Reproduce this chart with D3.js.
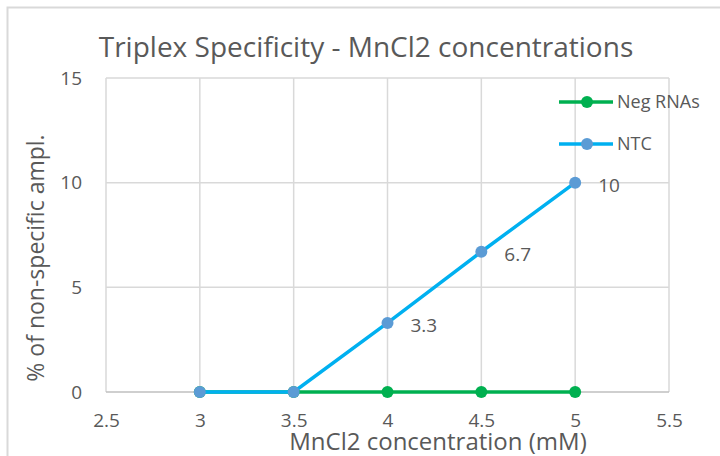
<!DOCTYPE html>
<html>
<head>
<meta charset="utf-8">
<script src="https://cdn.jsdelivr.net/npm/d3@7"></script>
<style>
  body { margin: 0; background: #fff; }
  svg text { font-family: "Open Sans", Lato, sans-serif; fill: #595959; }
</style>
</head>
<body>
<div id="chart"></div>
<script>
// chart values
const concentrations = [3, 3.5, 4, 4.5, 5];
const negRnas = [0, 0, 0, 0, 0];
const ntc = [0, 0, 3.3, 6.7, 10];
const ntcLabels = [null, null, "3.3", "6.7", "10"];
const xTicks = [2.5, 3, 3.5, 4, 4.5, 5, 5.5];
const yTicks = [0, 5, 10, 15];

const width = 720, height = 456;
const margin = { top: 78, right: 51, bottom: 64, left: 106 };
const innerW = width - margin.left - margin.right;
const innerH = height - margin.top - margin.bottom;

const svg = d3.select("#chart")
  .append("svg")
  .attr("width", width)
  .attr("height", height);

// outer frame (runs off right and bottom edges)
svg.append("rect")
  .attr("x", 7.5).attr("y", 7.5)
  .attr("width", 760).attr("height", 500)
  .attr("fill", "none")
  .attr("stroke", "#d9d9d9")
  .attr("stroke-width", 2);

const g = svg.append("g")
  .attr("transform", "translate(" + margin.left + "," + margin.top + ")");

const x = d3.scaleLinear().domain([2.5, 5.5]).range([0, innerW]);
const y = d3.scaleLinear().domain([0, 15]).range([innerH, 0]);

// gridlines
g.append("g")
  .selectAll("line")
  .data(xTicks)
  .enter()
  .append("line")
  .attr("x1", d => x(d)).attr("x2", d => x(d))
  .attr("y1", 0).attr("y2", innerH)
  .attr("stroke", "#d9d9d9")
  .attr("stroke-width", 1.5);

g.append("g")
  .selectAll("line")
  .data(yTicks)
  .enter()
  .append("line")
  .attr("x1", 0).attr("x2", innerW)
  .attr("y1", d => y(d)).attr("y2", d => y(d))
  .attr("stroke", d => d === 0 ? "#bfbfbf" : "#d9d9d9")
  .attr("stroke-width", 1.5);

// axes (labels only)
const xAxis = g.append("g")
  .attr("transform", "translate(0," + innerH + ")")
  .call(d3.axisBottom(x).tickValues(xTicks).tickSize(0).tickPadding(22).tickFormat(d3.format("")));
xAxis.select(".domain").remove();
xAxis.selectAll("text").style("font-size", "19px").attr("fill", "#595959");

const yAxis = g.append("g")
  .call(d3.axisLeft(y).tickValues(yTicks).tickSize(0).tickPadding(24));
yAxis.select(".domain").remove();
yAxis.selectAll("text").style("font-size", "19px").attr("fill", "#595959");

// series lines
const line = d3.line()
  .x(d => x(d[0]))
  .y(d => y(d[1]));

const series = [
  { name: "Neg RNAs", values: negRnas, line: "#00b050", marker: "#00b050" },
  { name: "NTC", values: ntc, line: "#00b0f0", marker: "#5b9bd5" }
];

series.forEach(s => {
  const pts = concentrations.map((c, i) => [c, s.values[i]]);
  g.append("path")
    .datum(pts)
    .attr("d", line)
    .attr("fill", "none")
    .attr("stroke", s.line)
    .attr("stroke-width", 3.5);
  g.selectAll(null)
    .data(pts)
    .enter()
    .append("circle")
    .attr("cx", d => x(d[0]))
    .attr("cy", d => y(d[1]))
    .attr("r", 6)
    .attr("fill", s.marker);
});

// data labels for NTC
g.selectAll(null)
  .data(concentrations.map((c, i) => [c, ntc[i], ntcLabels[i]]).filter(d => d[2]))
  .enter()
  .append("text")
  .attr("x", d => x(d[0]) + 23)
  .attr("y", d => y(d[1]) + 9)
  .style("font-size", "19px")
  .text(d => d[2]);

// legend
const legend = svg.append("g");
series.forEach((s, i) => {
  const ly = 102 + i * 42;
  legend.append("line")
    .attr("x1", 559).attr("x2", 613)
    .attr("y1", ly).attr("y2", ly)
    .attr("stroke", s.line).attr("stroke-width", 3.5);
  legend.append("circle")
    .attr("cx", 587).attr("cy", ly).attr("r", 6).attr("fill", s.marker);
  legend.append("text")
    .attr("x", 617).attr("y", ly + 6)
    .style("font-size", "18px")
    .text(s.name);
});

// title
svg.append("text")
  .attr("x", 366).attr("y", 57)
  .attr("text-anchor", "middle")
  .style("font-size", "28px")
  .text("Triplex Specificity - MnCl2 concentrations");

// axis titles
svg.append("text")
  .attr("x", 438).attr("y", 450)
  .attr("text-anchor", "middle")
  .style("font-size", "24px")
  .text("MnCl2 concentration (mM)");

svg.append("text")
  .attr("transform", "translate(44,258) rotate(-90)")
  .attr("text-anchor", "middle")
  .style("font-size", "23px")
  .text("% of non-specific ampl.");
</script>
</body>
</html>
